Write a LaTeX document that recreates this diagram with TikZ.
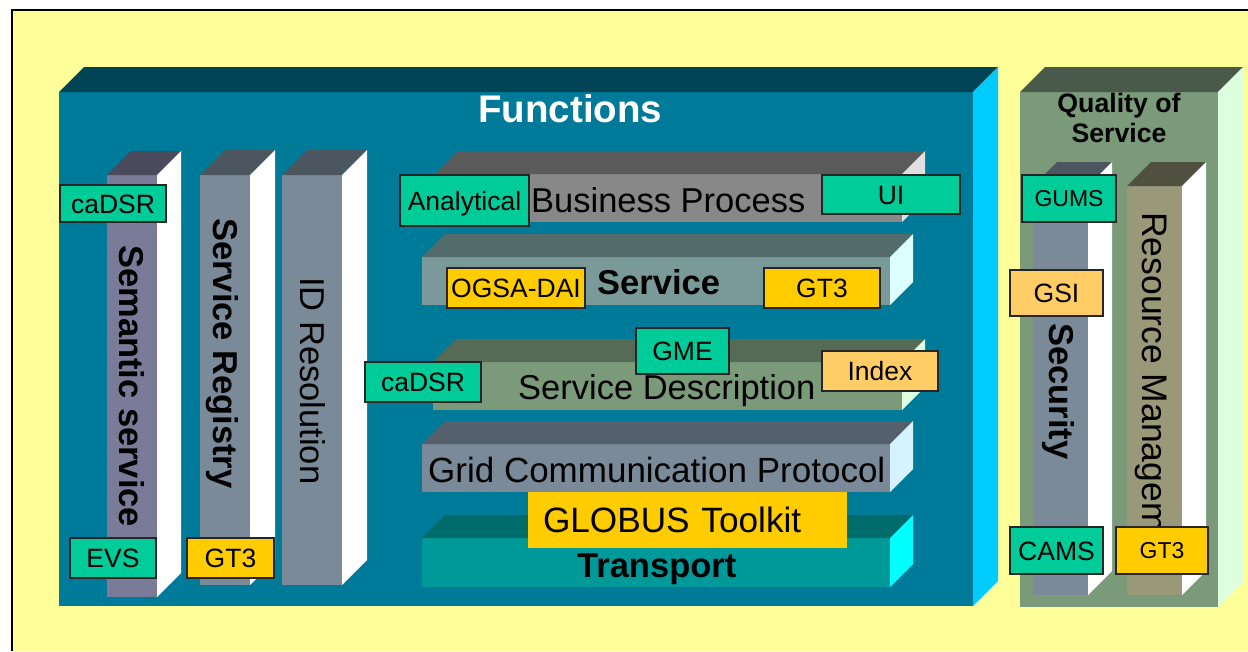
\documentclass[tikz,border=0pt]{standalone}
\usepackage{fontspec}
\setmainfont{Liberation Sans}
\usepackage{xcolor}
\usepackage{tikz}
\usetikzlibrary{calc,positioning}

\definecolor{paper}{HTML}{FFFF99}
\definecolor{fnfront}{HTML}{007A99}
\definecolor{fntop}{HTML}{004455}
\definecolor{fnside}{HTML}{00CCFF}
\definecolor{qosfront}{HTML}{7A9A7A}
\definecolor{qostop}{HTML}{4A5A4A}
\definecolor{qosside}{HTML}{DDFFDD}
\definecolor{semfront}{HTML}{7A7A99}
\definecolor{semtop}{HTML}{4A4A5C}
\definecolor{slate}{HTML}{7A8A99}
\definecolor{slatetop}{HTML}{4B5660}
\definecolor{bpfront}{HTML}{888888}
\definecolor{bptop}{HTML}{5A5A5A}
\definecolor{bpside}{HTML}{E0E0E0}
\definecolor{svfront}{HTML}{7A9A9A}
\definecolor{svtop}{HTML}{536B6B}
\definecolor{svside}{HTML}{DDFFFF}
\definecolor{sdtop}{HTML}{556B55}
\definecolor{gcptop}{HTML}{54606B}
\definecolor{gcpside}{HTML}{D6F2FF}
\definecolor{trfront}{HTML}{009999}
\definecolor{trtop}{HTML}{006B6B}
\definecolor{trside}{HTML}{00FFFF}
\definecolor{rmfront}{HTML}{99997A}
\definecolor{rmtop}{HTML}{4F5040}
\definecolor{tgreen}{HTML}{00CC99}
\definecolor{tyellow}{HTML}{FFCC00}
\definecolor{torange}{HTML}{FFCC66}

% top and side faces of a block (front face = node #1, depth #2)
\newcommand{\blockfaces}[4]{%
  \fill[#3] (#1.north west) -- ++(#2,-#2) -- ($(#1.north east)+(#2,-#2)$) -- (#1.north east) -- cycle;
  \fill[#4] (#1.north east) -- ++(#2,-#2) -- ($(#1.south east)+(#2,-#2)$) -- (#1.south east) -- cycle;}

\begin{document}
\begin{tikzpicture}[
    x=1pt, y=-1pt,
    front/.style={inner sep=0pt, outer sep=0pt, anchor=north west},
    tag/.style={draw=black!85, line width=1.2pt, inner sep=0pt, outer sep=0pt, anchor=north west, text height=19pt, text depth=0pt, font=\fontsize{26.5}{26.5}\selectfont},
    small tag/.style={tag, text height=16.5pt, font=\fontsize{23}{23}\selectfont},
    layertext/.style={anchor=base west, inner sep=0pt, font=\fontsize{34.5}{34.5}\selectfont},
    heavy/.style={font=\fontsize{34.5}{34.5}\selectfont\bfseries},
    coltext/.style={layertext, rotate=-90}
]
\useasboundingbox (0,0) rectangle (1248,651);

% Page
\fill[white] (0,0) rectangle (1248,651);
\fill[paper] (12,10) rectangle (1248,651);
\draw[line width=1.5pt] (12,651) -- (12,10) -- (1248,10);

% Functions block
\node[front, fill=fnfront, minimum width=914pt, minimum height=514pt] (fn) at (59,92) {};
\blockfaces{fn}{25}{fntop}{fnside}
\node[layertext, text=white, font=\fontsize{38.5}{38.5}\selectfont\bfseries] (fntitle) at (478,122) {Functions};

% Columns (vertical)
\node[front, fill=semfront, minimum width=50pt, minimum height=422pt] (sem) at (107,175) {};
\blockfaces{sem}{24}{semtop}{white}
\node[front, fill=slate, minimum width=50pt, minimum height=410pt] (reg) at (200,175) {};
\blockfaces{reg}{25}{slatetop}{white}
\node[front, fill=slate, minimum width=60pt, minimum height=410pt] (idr) at (282,175) {};
\blockfaces{idr}{25}{slatetop}{white}
\node[coltext, heavy] (semtext) at (119,245) {Semantic service};
\node[coltext, heavy] (regtext) at (213,218) {Service Registry};
\node[coltext] (idrtext) at (300,277) {ID Resolution};

% Layers (horizontal stack)
\node[front, fill=bpfront, minimum width=467pt, minimum height=48pt] (bp) at (435,174) {};
\blockfaces{bp}{23}{bptop}{bpside}
\node[front, fill=svfront, minimum width=468pt, minimum height=48pt] (sv) at (422,257) {};
\blockfaces{sv}{23}{svtop}{svside}
\node[front, fill=qosfront, minimum width=469pt, minimum height=48pt] (sd) at (433,362) {};
\blockfaces{sd}{23}{sdtop}{qosside}
\node[front, fill=slate, minimum width=468pt, minimum height=48pt] (gcp) at (422,444) {};
\blockfaces{gcp}{23}{gcptop}{gcpside}
\node[front, fill=trfront, minimum width=468pt, minimum height=49pt] (tr) at (422,538) {};
\blockfaces{tr}{23}{trtop}{trside}

\node[layertext] (bptext) at (531,212) {Business Process};
\node[layertext, heavy] (svtext) at (597,294) {Service};
\node[layertext] (sdtext) at (518,399) {Service Description};
\node[layertext, font=\fontsize{35}{35}\selectfont] (gcptext) at (428,482) {Grid Communication Protocol};
\node[layertext, heavy] (trtext) at (577,577) {Transport};

% Tags on the Functions block
\node[tag, fill=tgreen, minimum width=106pt, minimum height=37pt] (cadsrsem) at (60,185) {caDSR};
\node[tag, fill=tgreen, minimum width=86pt, minimum height=40pt] (evs) at (70,538) {EVS};
\node[tag, fill=tyellow, minimum width=87pt, minimum height=40pt] (gtreg) at (187,538) {GT3};
\node[tag, fill=tgreen, minimum width=129pt, minimum height=51pt] (analytical) at (400,175) {Analytical};
\node[tag, fill=tgreen, minimum width=138pt, minimum height=39pt] (ui) at (822,175) {UI};
\node[tag, fill=tyellow, minimum width=138pt, minimum height=40pt] (ogsa) at (447,268) {OGSA-DAI};
\node[tag, fill=tyellow, minimum width=116pt, minimum height=40pt] (gtsv) at (764,268) {GT3};
\node[tag, fill=tgreen, minimum width=93pt, minimum height=46pt] (gme) at (636,328) {GME};
\node[tag, fill=tgreen, minimum width=116pt, minimum height=40pt] (cadsrsd) at (365,362) {caDSR};
\node[tag, fill=torange, minimum width=116pt, minimum height=40pt] (index) at (822,351) {Index};
\node[tag, draw=none, fill=tyellow, minimum width=319pt, minimum height=56pt, text width=289pt, align=left, text height=25pt, font=\fontsize{35.2}{35.2}\selectfont] (globus) at (528,492) {GLOBUS Toolkit};

% Quality of Service block
\node[front, fill=qosfront, minimum width=198pt, minimum height=515pt] (qos) at (1020,92) {};
\blockfaces{qos}{25}{qostop}{qosside}
\node[anchor=base, inner sep=0pt, font=\fontsize{26.7}{26.7}\selectfont\bfseries] (qostitle) at (1119,112) {Quality of};
\node[anchor=base, inner sep=0pt, font=\fontsize{26.7}{26.7}\selectfont\bfseries] (qostitleb) at (1119,142) {Service};

\node[front, fill=slate, minimum width=55pt, minimum height=409pt] (sec) at (1033,186) {};
\blockfaces{sec}{24}{slatetop}{white}
\node[front, fill=rmfront, minimum width=55pt, minimum height=409pt] (rm) at (1127,186) {};
\blockfaces{rm}{24}{rmtop}{white}
\node[coltext, heavy] (sectext) at (1049,323) {Security};
\node[coltext, font=\fontsize{35.5}{35.5}\selectfont] (rmtext) at (1142,212) {Resource Managem};

% Tags on the QoS block
\node[small tag, fill=tgreen, minimum width=94pt, minimum height=47pt] (gums) at (1022,175) {GUMS};
\node[tag, fill=torange, minimum width=93pt, minimum height=46pt] (gsi) at (1010,270) {GSI};
\node[tag, fill=tgreen, minimum width=93pt, minimum height=47pt] (cams) at (1010,527) {CAMS};
\node[small tag, fill=tyellow, minimum width=92pt, minimum height=47pt] (gtqos) at (1116,527) {GT3};

\end{tikzpicture}
\end{document}
